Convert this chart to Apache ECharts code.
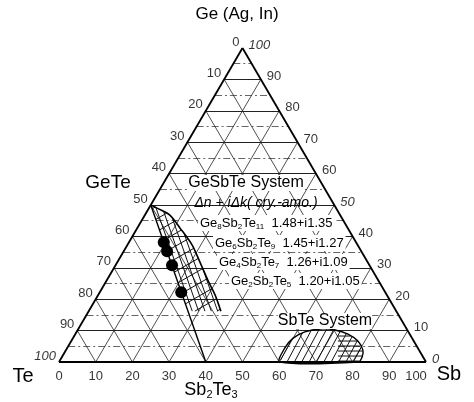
<!DOCTYPE html>
<html lang="en">
<head>
  <meta charset="UTF-8">
  <title>GeSbTe ternary</title>
  <style>
    body { margin: 0; background: #fff; }
    #chart { width: 474px; height: 402px; }
  </style>
</head>
<body>
  <div id="chart"></div>
  <script src="https://cdn.jsdelivr.net/npm/echarts@6/dist/echarts.min.js"></script>
  <script>
    // tick labels on the three sides
    const leftTicks = [0, 10, 20, 30, 40, 50, 60, 70, 80, 90, 100]
    const rightTicks = [100, 90, 80, 70, 60, 50, 40, 30, 20, 10, 0]
    const bottomTicks = [0, 10, 20, 30, 40, 50, 60, 70, 80, 90, 100]
    const gridSteps = [5, 10, 15, 20, 25, 30, 35, 40, 45, 50, 55, 60, 65, 70, 75, 80, 85, 90, 95]

    // compositions on the GeTe - Sb2Te3 tie line (at.% Sb, at.% Ge)
    const phaseNames = ['Ge{s|8}Sb{s|2}Te{s|11}', 'Ge{s|6}Sb{s|2}Te{s|9}', 'Ge{s|4}Sb{s|2}Te{s|7}', 'Ge{s|2}Sb{s|2}Te{s|5}']
    const phaseSb = [9.5, 11.8, 15.4, 22.2]
    const phaseGe = [38.1, 35.3, 30.8, 22.2]
    const phaseNK = ['1.48+i1.35', '1.45+i1.27', '1.26+i1.09', '1.20+i1.05']

    // GeSbTe system boundary curve (Sb, Ge)
    const gstCurveSb = [0, 2.2, 6.8, 11.6, 17.6, 22.5, 27.5, 31.9, 36.0]
    const gstCurveGe = [50, 49.0, 46.8, 42.7, 37.3, 31.8, 26.1, 21.3, 16.2]
    // SbTe system dome (Sb, Ge)
    const sbteSb = [60.2, 59.3, 60.0, 62.2, 65.9, 70.1, 74.3, 78.1, 80.9, 81.8, 81.5]
    const sbteGe = [0, 4.5, 7.6, 9.6, 10.5, 10.2, 8.9, 6.7, 3.8, 1.6, 0]

    // ternary (Sb, Ge) -> cartesian x,y in the 0..100 grid
    function tern(sb, ge) { return [sb + ge / 2, ge] }

    // parallel hatch lines (pixel space) clipped to a polygon, even-odd rule
    function hatchLines(poly, dx, dy, step, phase, minX) {
      let len = Math.hypot(dx, dy)
      dx /= len; dy /= len
      let nx = -dy, ny = dx
      let proj = poly.map(p => p[0] * nx + p[1] * ny)
      let lo = Math.min(...proj), hi = Math.max(...proj)
      let out = []
      for (let c = lo + phase; c < hi; c += step) {
        let px = nx * c, py = ny * c
        let ts = []
        for (let i = 0; i < poly.length; i++) {
          let a = poly[i], b = poly[(i + 1) % poly.length]
          let ex = b[0] - a[0], ey = b[1] - a[1]
          let den = dx * ey - dy * ex
          if (Math.abs(den) < 1e-9) continue
          let wx = a[0] - px, wy = a[1] - py
          let t = (wx * ey - wy * ex) / den
          let u = (wx * dy - wy * dx) / den
          if (u >= 0 && u < 1) ts.push(t)
        }
        ts.sort((m, n) => m - n)
        for (let k = 0; k + 1 < ts.length; k += 2) {
          let x1 = px + dx * ts[k], y1 = py + dy * ts[k]
          let x2 = px + dx * ts[k + 1], y2 = py + dy * ts[k + 1]
          if (minX != null) {
            if (Math.max(x1, x2) < minX) continue
            if (x1 < minX) { let f = (minX - x1) / (x2 - x1); x1 = minX; y1 = y1 + f * (y2 - y1) }
            if (x2 < minX) { let f = (minX - x2) / (x1 - x2); x2 = minX; y2 = y2 + f * (y1 - y2) }
          }
          out.push({ type: 'line', shape: { x1: x1, y1: y1, x2: x2, y2: y2 }, style: { stroke: '#111', lineWidth: 1 } })
        }
      }
      return out
    }

    let gridLines = []
    gridSteps.forEach(g => {
      let major = g % 10 === 0
      gridLines.push({
        coords: [tern(0, g), tern(100 - g, g)],
        lineStyle: { color: major ? '#222' : '#555', width: major ? 1 : 0.9, type: major ? 'solid' : [7, 3, 2, 3] }
      })
    })
    gridSteps.filter(g => g % 10 === 0).forEach(v => {
      gridLines.push({ coords: [tern(v, 0), tern(v, 100 - v)], lineStyle: { color: '#222', width: 0.8 } })
      gridLines.push({ coords: [tern(100 - v, 0), tern(0, 100 - v)], lineStyle: { color: '#222', width: 0.8 } })
    })
    let edges = [
      { coords: [tern(0, 0), tern(100, 0)] },
      { coords: [tern(100, 0), tern(0, 100)] },
      { coords: [tern(0, 100), tern(0, 0)] },
      { coords: [tern(0, 50), tern(40, 0)], lineStyle: { width: 1.4 } }
    ]

    const italicLeft = [100]
    const italicRight = [100, 50, 0]
    const lbl = { color: '#000', fontSize: 13, fontFamily: 'Liberation Sans' }

    let chart = echarts.init(document.getElementById('chart'))
    chart.setOption({
      animation: false,
      grid: { left: 59, top: 48, width: 367, height: 314 },
      xAxis: { type: 'value', min: 0, max: 100, show: false },
      yAxis: { type: 'value', min: 0, max: 100, show: false },
      graphic: [
        { type: 'text', left: 'center', top: 6, style: { text: 'Ge (Ag, In)', fontSize: 17, fontFamily: 'Liberation Sans', fill: '#000' } },
        { type: 'text', x: 108, y: 183, style: { text: 'GeTe', fontSize: 19, fontFamily: 'Liberation Sans', fill: '#000', align: 'center', verticalAlign: 'middle' } },
        { type: 'text', x: 23, y: 376, style: { text: 'Te', fontSize: 20, fontFamily: 'Liberation Sans', fill: '#000', align: 'center', verticalAlign: 'middle' } },
        { type: 'text', x: 449, y: 374, style: { text: 'Sb', fontSize: 20, fontFamily: 'Liberation Sans', fill: '#000', align: 'center', verticalAlign: 'middle' } },
        {
          type: 'text', x: 211, y: 390, style: {
            text: 'Sb{s|2}Te{s|3}', fontSize: 18, fontFamily: 'Liberation Sans', fill: '#000', align: 'center', verticalAlign: 'middle',
            rich: { s: { fontSize: 11, fontFamily: 'Liberation Sans', verticalAlign: 'bottom', padding: [10, 0, 0, 0] } }
          }
        },
        { type: 'text', x: 246, y: 183, z: 10, style: { text: 'GeSbTe System', fontSize: 16, fontFamily: 'Liberation Sans', fill: '#000', align: 'center', verticalAlign: 'middle', backgroundColor: '#fff' } },
        { type: 'text', x: 256, y: 203, z: 10, style: { text: 'Δn + iΔk( cry.-amo.)', fontSize: 14, fontStyle: 'italic', fontFamily: 'Liberation Sans', fill: '#000', align: 'center', verticalAlign: 'middle' } },
        { type: 'text', x: 325, y: 321, z: 10, style: { text: 'SbTe System', fontSize: 16, fontFamily: 'Liberation Sans', fill: '#000', align: 'center', verticalAlign: 'middle', backgroundColor: '#fff' } }
      ].concat(phaseNames.map((n, i) => ({
        type: 'text', x: [198, 213, 217, 229][i], y: [223, 243, 262, 281][i], z: 10,
        style: {
          text: n + '  ' + phaseNK[i], fontSize: 13, fontFamily: 'Liberation Sans', fill: '#000', verticalAlign: 'middle',
          backgroundColor: '#fff', padding: [0, 2, 0, 2],
          rich: { s: { fontSize: 8, fontFamily: 'Liberation Sans', verticalAlign: 'bottom', padding: [8, 0, 0, 0] } }
        }
      }))),
      series: [
        { type: 'lines', coordinateSystem: 'cartesian2d', silent: true, z: 1, lineStyle: { opacity: 1 }, data: gridLines },
        {
          type: 'custom', silent: true, z: 2, data: [[0, 0]],
          renderItem: function (params, api) {
            let curve = gstCurveSb.map((s, i) => api.coord(tern(s, gstCurveGe[i])))
            let gst = curve.concat([api.coord(tern(27, 16.2))])
            let sbte = sbteSb.map((s, i) => api.coord(tern(s, sbteGe[i])))
            let tie = [api.coord(tern(0, 50)), api.coord(tern(40, 0))]
            let tdx = tie[1][0] - tie[0][0], tdy = tie[1][1] - tie[0][1]
            let kids = []
              .concat(hatchLines(gst, tdx, tdy, 6, 3))
              .concat(hatchLines(gst, 0.87, -0.5, 11, 4))
              .concat(hatchLines(sbte, 0.47, -0.88, 6.5, 2))
              .concat(hatchLines(sbte, 1, 0, 5, 2, api.coord([76, 0])[0]))
            kids.push({ type: 'polyline', shape: { points: curve, smooth: 0.3 }, style: { stroke: '#000', lineWidth: 1.6, fill: null } })
            kids.push({ type: 'polygon', shape: { points: sbte, smooth: 0.3 }, style: { fill: null, stroke: '#000', lineWidth: 1.4 } })
            return { type: 'group', children: kids }
          }
        },
        { type: 'lines', coordinateSystem: 'cartesian2d', silent: true, z: 3, lineStyle: { color: '#000', width: 1.8, opacity: 1 }, data: edges },
        {
          type: 'scatter', silent: true, z: 4, symbolSize: 12, itemStyle: { color: '#000', opacity: 1 },
          data: phaseSb.map((s, i) => tern(s, phaseGe[i]))
        },
        {
          type: 'scatter', silent: true, symbolSize: 0,
          data: leftTicks.map(v => ({
            value: tern(0, 100 - v),
            label: { fontStyle: italicLeft.includes(v) ? 'italic' : 'normal' }
          })),
          label: Object.assign({ show: true, position: 'left', distance: 3, offset: [0, -6], formatter: p => leftTicks[p.dataIndex] }, lbl)
        },
        {
          type: 'scatter', silent: true, symbolSize: 0,
          data: rightTicks.map(v => ({
            value: tern(100 - v, v),
            label: { fontStyle: italicRight.includes(v) ? 'italic' : 'normal' }
          })),
          label: Object.assign({ show: true, position: 'right', distance: 6, offset: [0, -3], formatter: p => rightTicks[p.dataIndex] }, lbl)
        },
        {
          type: 'scatter', silent: true, symbolSize: 0,
          data: bottomTicks.map(v => ({
            value: tern(v, 0),
            label: { offset: v === 100 ? [-10, 0] : [0, 0] }
          })),
          label: Object.assign({ show: true, position: 'bottom', distance: 8, formatter: p => bottomTicks[p.dataIndex] }, lbl)
        }
      ]
    })
  </script>
</body>
</html>
